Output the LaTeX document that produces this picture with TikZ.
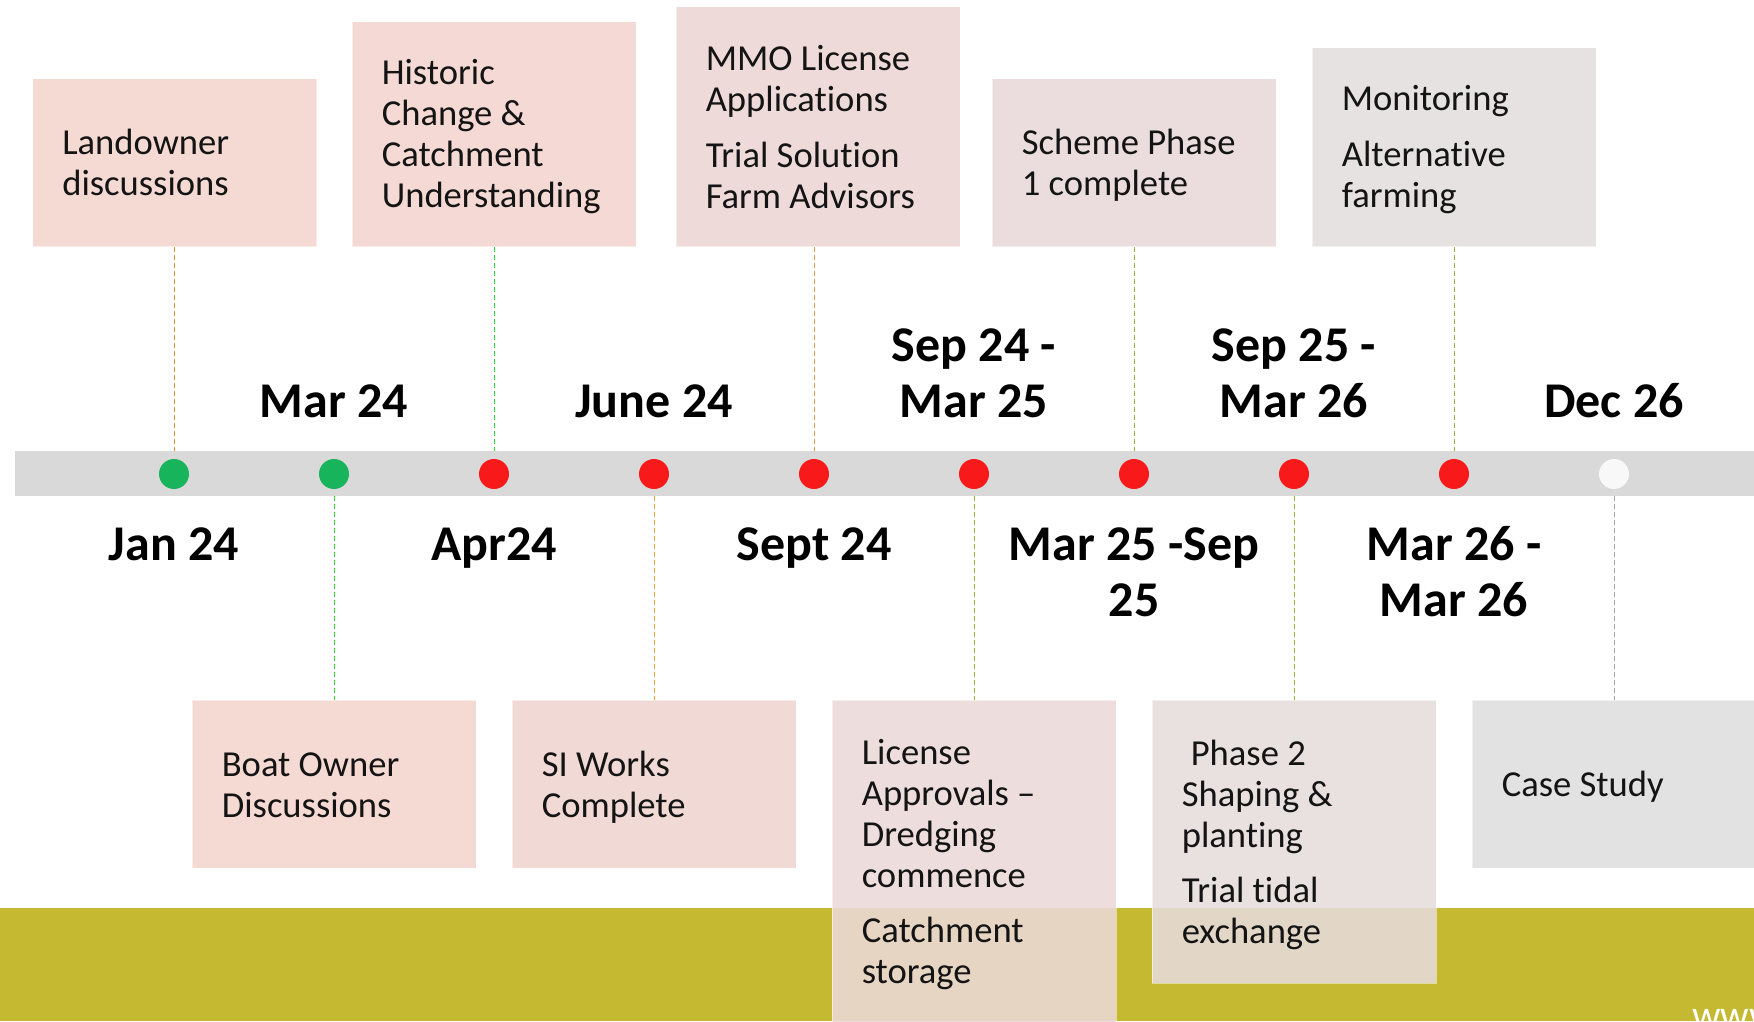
\documentclass[tikz,border=0pt]{standalone}
\usepackage{fontspec}
\setmainfont{Carlito}[Ligatures={TeX,NoCommon}]
\definecolor{bandolive}{HTML}{C4B930}
\definecolor{barg}{HTML}{D9D9D9}
\definecolor{dgreen}{HTML}{18B45B}
\definecolor{dred}{HTML}{F81A1A}
\definecolor{dwhite}{HTML}{F8F8F8}
\definecolor{fLand}{HTML}{F4D5CE}
\definecolor{fHist}{HTML}{F3D4CF}
\definecolor{fMMO}{HTML}{EDD5D5}
\definecolor{fScheme}{HTML}{E9D9D9}
\definecolor{fMon}{HTML}{E3DEDE}
\definecolor{fBoat}{HTML}{F4D5CE}
\definecolor{fSI}{HTML}{F0D5D1}
\definecolor{fLic}{HTML}{ECD9D9}
\definecolor{fPh}{HTML}{E7DCDC}
\definecolor{fCase}{HTML}{DFDFDF}
\definecolor{cOrange}{HTML}{F08A2E}
\definecolor{cGreen}{HTML}{2ADD2A}
\definecolor{cOrange2}{HTML}{EFA030}
\definecolor{cTan}{HTML}{D2A23E}
\definecolor{cOlive}{HTML}{A6A83E}
\definecolor{cOlive2}{HTML}{9EAE3E}
\definecolor{cGray}{HTML}{A6A6A6}
\newcommand{\bxs}{\rule[-6pt]{0pt}{34pt}}
\begin{document}
\begin{tikzpicture}[x=1pt,y=-1pt,
  box/.style={rectangle, inner sep=0pt, minimum width=284pt, fill opacity=0.88, draw opacity=0.5, draw=white, line width=0.8pt},
  txt/.style={inner sep=0pt, align=left, anchor=west, text=black!92, font=\fontsize{36.6}{41}\selectfont},
  datelbl/.style={inner sep=0pt, align=center, text=black, font=\bfseries\fontsize{50}{56}\selectfont},
  dot/.style={circle, inner sep=0pt, minimum size=30pt},
  conn/.style={line width=1pt, dash pattern=on 5pt off 3pt},
]
\useasboundingbox (0,0) rectangle (1754,1021);
\fill[white] (0,0) rectangle (1754,1021);

% olive band
\fill[bandolive] (0,908) rectangle (1754,1021);

% timeline bar
\node[fill=barg, inner sep=0pt, minimum width=1745pt, minimum height=45pt, anchor=north west] (bar) at (15,451) {};

% dots
\node[dot, fill=dgreen] (d1) at (174,474) {};
\node[dot, fill=dgreen] (d2) at (334,474) {};
\node[dot, fill=dred] (d3) at (494,474) {};
\node[dot, fill=dred] (d4) at (654,474) {};
\node[dot, fill=dred] (d5) at (814,474) {};
\node[dot, fill=dred] (d6) at (974,474) {};
\node[dot, fill=dred] (d7) at (1134,474) {};
\node[dot, fill=dred] (d8) at (1294,474) {};
\node[dot, fill=dred] (d9) at (1454,474) {};
\node[dot, fill=dwhite] (d10) at (1614,474) {};

% top boxes
\node[box, fill=fLand, minimum height=168pt, anchor=south] (b1) at (174.5,247) {};
\node[box, fill=fHist, minimum height=225pt, anchor=south] (b2) at (494,247) {};
\node[box, fill=fMMO, minimum height=240pt, anchor=south] (b3) at (818,247) {};
\node[box, fill=fScheme, minimum height=168pt, anchor=south] (b4) at (1134,247) {};
\node[box, fill=fMon, minimum height=199pt, anchor=south] (b5) at (1454,247) {};

% bottom boxes
\node[box, fill=fBoat, minimum height=168pt, anchor=north] (c1) at (334,700) {};
\node[box, fill=fSI, minimum height=168pt, anchor=north] (c2) at (654,700) {};
\node[box, fill=fLic, minimum height=323pt, anchor=north] (c3) at (974,700) {};
\node[box, fill=fPh, minimum height=283pt, anchor=north] (c4) at (1294,700) {};
\node[box, fill=fCase, minimum height=168pt, anchor=north] (c5) at (1614,700) {};

% box texts
\node[txt] (t1) at ([xshift=30pt,yshift=-1.5pt]b1.west) {\bxs Landowner\\\bxs discussions};
\node[txt] (t2) at ([xshift=30pt,yshift=-1.5pt]b2.west) {\bxs Historic\\\bxs Change \&\\\bxs Catchment\\\bxs Understanding};
\node[txt] (t3) at ([xshift=30pt,yshift=-1.5pt]b3.west) {\bxs MMO License\\\bxs Applications\\[15pt]\bxs Trial Solution\\\bxs Farm Advisors};
\node[txt] (t4) at ([xshift=30pt,yshift=-1.5pt]b4.west) {\bxs Scheme Phase\\\bxs 1 complete};
\node[txt] (t5) at ([xshift=30pt,yshift=-1.5pt]b5.west) {\bxs Monitoring\\[15pt]\bxs Alternative\\\bxs farming};
\node[txt] (u1) at ([xshift=30pt,yshift=-1.5pt]c1.west) {\bxs Boat Owner\\\bxs Discussions};
\node[txt] (u2) at ([xshift=30pt,yshift=-1.5pt]c2.west) {\bxs SI Works\\\bxs Complete};
\node[txt] (u3) at ([xshift=30pt,yshift=-1.5pt]c3.west) {\bxs License\\\bxs Approvals –\\\bxs Dredging\\\bxs commence\\[14pt]\bxs Catchment\\\bxs storage};
\node[txt] (u4) at ([xshift=30pt,yshift=-1.5pt]c4.west) {\bxs\hspace*{9pt}Phase 2\\\bxs Shaping \&\\\bxs planting\\[14pt]\bxs Trial tidal\\\bxs exchange};
\node[txt] (u5) at ([xshift=30pt,yshift=-1.5pt]c5.west) {\bxs Case Study};

% connectors
\draw[conn, draw=cOrange] (d1 |- b1.south) -- (d1 |- bar.north);
\draw[conn, draw=cGreen] (d3 |- b2.south) -- (d3 |- bar.north);
\draw[conn, draw=cTan] (d5 |- b3.south) -- (d5 |- bar.north);
\draw[conn, draw=cOlive2] (d7 |- b4.south) -- (d7 |- bar.north);
\draw[conn, draw=cOlive] (d9 |- b5.south) -- (d9 |- bar.north);
\draw[conn, draw=cGreen] (d2 |- bar.south) -- (d2 |- c1.north);
\draw[conn, draw=cOrange2] (d4 |- bar.south) -- (d4 |- c2.north);
\draw[conn, draw=cOlive] (d6 |- bar.south) -- (d6 |- c3.north);
\draw[conn, draw=cOlive2] (d8 |- bar.south) -- (d8 |- c4.north);
\draw[conn, draw=cGray] (d10 |- bar.south) -- (d10 |- c5.north);

% date labels above
\node[datelbl, anchor=base] (l2) at (334,417) {Mar 24};
\node[datelbl, anchor=base] (l4) at (654,417) {June 24};
\node[datelbl, anchor=south] (l6) at (974,418) {Sep 24 -\\Mar 25};
\node[datelbl, anchor=south] (l8) at (1294,418) {Sep 25 -\\Mar 26};
\node[datelbl, anchor=base] (l10) at (1614,417) {Dec 26};
% date labels below
\node[datelbl, anchor=base] (l1) at (174,560) {Jan 24};
\node[datelbl, anchor=base] (l3) at (494,560) {Apr24};
\node[datelbl, anchor=base] (l5) at (814,560) {Sept 24};
\node[datelbl, anchor=south] (l7) at (1134,617) {Mar 25 -Sep\\25};
\node[datelbl, anchor=south] (l9) at (1454,617) {Mar 26 -\\Mar 26};

% partial web address
\node[inner sep=0pt, anchor=base west, text=white, font=\fontsize{40}{48}\selectfont] (web) at (1692,1028) {www};
\end{tikzpicture}
\end{document}
